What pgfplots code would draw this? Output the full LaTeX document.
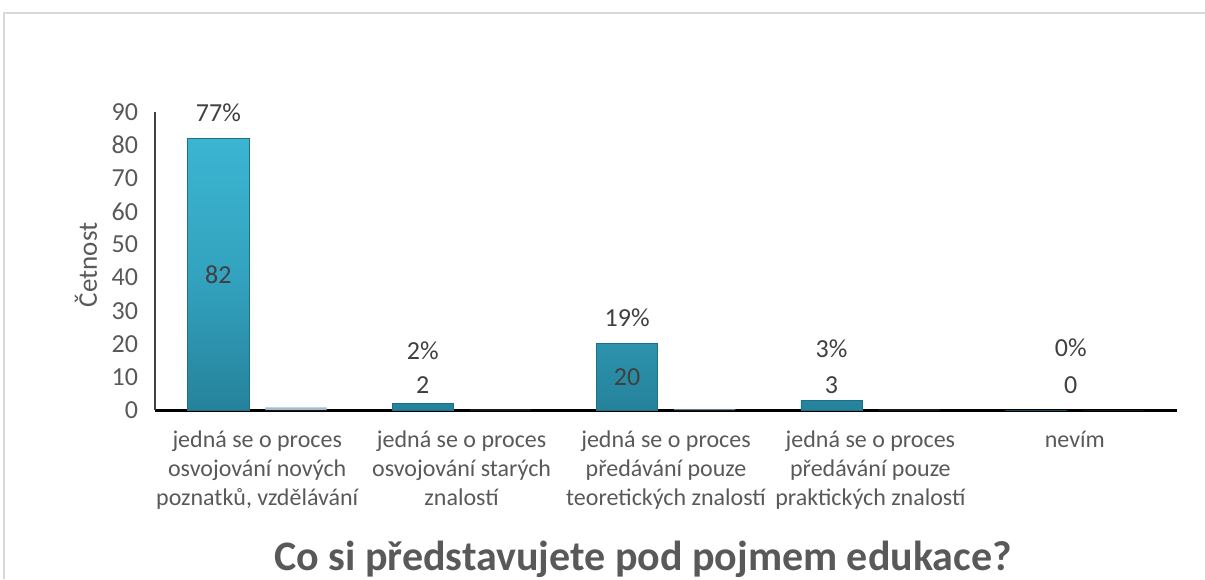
\documentclass[border=0pt]{standalone}
\usepackage{pgfplots}
\pgfplotsset{compat=1.18}
\usepackage{fontspec}
\setmainfont{Carlito}
\definecolor{tick}{HTML}{595959}
\definecolor{lab}{HTML}{404040}
\definecolor{bartop}{HTML}{3BB5D2}
\definecolor{barmid}{HTML}{33A3BF}
\definecolor{barbot}{HTML}{26829B}
\definecolor{baredge}{HTML}{1F6F86}
\definecolor{bar2}{HTML}{A3BCCD}
\definecolor{frame}{HTML}{D9D9D9}
\begin{document}
\begin{tikzpicture}
\path[use as bounding box] (0,0) rectangle (602.5pt,289.5pt);
\draw[line width=1pt, frame] (2pt,0) -- (2pt,283pt) -- (602.5pt,283pt);
\begin{axis}[
  at={(77.5pt,84.5pt)}, anchor=south west, scale only axis,
  width=511pt, height=149pt,
  xmin=-0.5, xmax=4.5, ymin=0, ymax=90,
  axis x line=bottom, axis y line=left,
  x axis line style={-, black, line width=1.5pt},
  y axis line style={-, black!75, line width=0.6pt},
  major tick length=0pt,
  /pgf/number format/assume math mode=true,
  ytick={0,10,...,90},
  yticklabel style={font=\fontsize{13}{15}\selectfont, text=tick, xshift=-5pt},
  xtick={0,1,2,3,4},
  xticklabels={{jedná se o proces\\osvojování nových\\poznatků, vzdělávání},
               {jedná se o proces\\osvojování starých\\znalostí},
               {jedná se o proces\\předávání pouze\\teoretických znalostí},
               {jedná se o proces\\předávání pouze\\praktických znalostí},
               {nevím}},
  xticklabel style={align=center, font=\fontsize{12}{14.5}\selectfont, text=tick, anchor=north, yshift=-7pt},
  every axis y label/.style={at={(axis description cs:-0.0675,0.487)}, rotate=90, anchor=center, font=\fontsize{13.5}{15}\selectfont, text=tick},
  ylabel={Četnost},
  clip=false,
]
\addplot[ybar, bar width=0.3, bar shift=-0.19, draw=baredge, top color=bartop, bottom color=barbot, middle color=barmid]
  coordinates {(0,82) (1,2) (2,20) (3,3) (4,0)};
\addplot[ybar, bar width=0.3, bar shift=0.19, draw=none, fill=bar2]
  coordinates {(0,0.77) (1,0.02) (2,0.19) (3,0.03) (4,0)};
\begin{scope}[every node/.style={font=\fontsize{13}{15}\selectfont, text=lab}]
\node at (axis cs:-0.19,89.7) {77\%};
\node at (axis cs:-0.19,40.8) {82};
\node at (axis cs:0.81,17.8) {2\%};
\node at (axis cs:0.81,7.6) {2};
\node at (axis cs:1.81,27.8) {19\%};
\node at (axis cs:1.81,10) {20};
\node at (axis cs:2.81,18.4) {3\%};
\node at (axis cs:2.81,7.6) {3};
\node at (axis cs:3.98,18.7) {0\%};
\node at (axis cs:3.98,7.6) {0};
\end{scope}
\end{axis}
\node[font=\bfseries\fontsize{21}{24}\selectfont, text=tick] at (321.5pt,10pt) {Co si představujete pod pojmem edukace?};
\end{tikzpicture}
\end{document}
